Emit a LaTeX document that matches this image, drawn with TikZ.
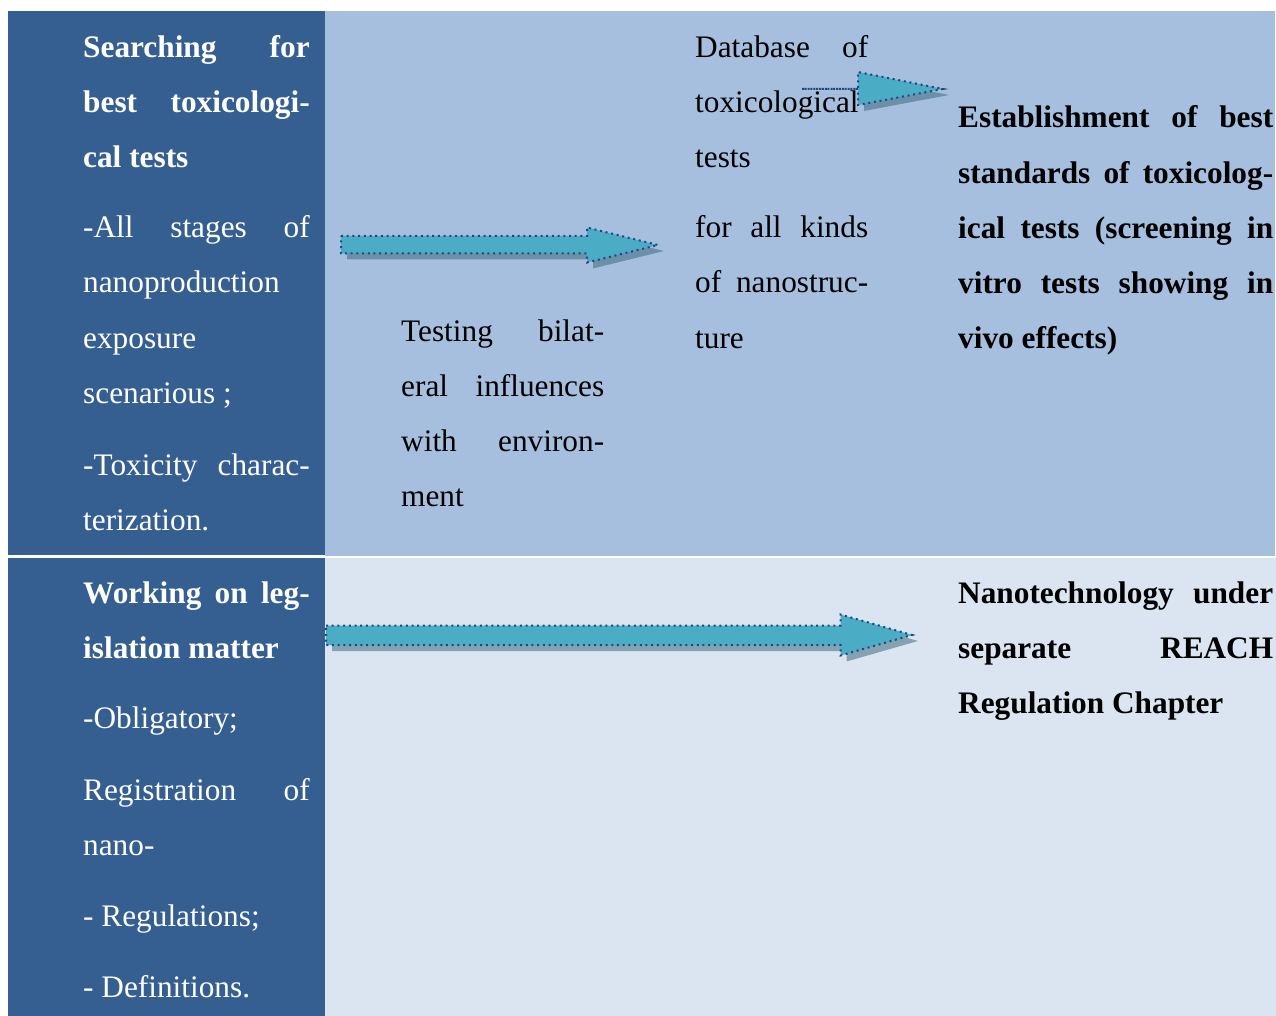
\documentclass[tikz,border=0pt]{standalone}
\usepackage{fontspec}
\setmainfont{Liberation Serif}
\definecolor{darkband}{HTML}{365F91}
\definecolor{lightband}{HTML}{A7BFDE}
\definecolor{paleband}{HTML}{DBE5F1}
\definecolor{arrowfill}{HTML}{4BACC6}
\definecolor{arrowline}{HTML}{1F497D}
\definecolor{arrowshade}{HTML}{3D6B7F}
\newcommand\bodyfont{\fontsize{31.3}{55.2}\selectfont}
\tolerance=10000
\hbadness=10000

\begin{document}
\begin{tikzpicture}[x=1pt, y=-1pt,
    para/.style={anchor=base west, inner sep=0pt, text width=#1, align=justify, font=\bodyfont},
    boldpara/.style={para=#1, font=\bfseries\bodyfont},
    lefttext/.style={para=226.5pt, text=white},
    leftbold/.style={boldpara=226.5pt, text=white},
    arrowbody/.style={fill=arrowfill, draw=arrowline, line width=2pt, dash pattern=on 2pt off 3.7pt},
    arrowshadow/.style={fill=arrowshade, opacity=.55}]
  \useasboundingbox (0,0) rectangle (1276,1016);

  \fill[darkband] (8,11) rectangle (325,555);
  \fill[lightband] (325,11) rectangle (1275,556);
  \fill[darkband] (8,558) rectangle (325,1016);
  \fill[paleband] (325,558) rectangle (1276,1016);

  \node[leftbold] (searching) at (83,57.5) {Searching for\linebreak best toxicologi-\linebreak cal tests};
  \node[lefttext] (stages) at (83,237.7) {-All stages of\linebreak nanoproduction\newline exposure\newline scenarious ;};
  \node[lefttext] (toxicity) at (83,475) {-Toxicity charac-\linebreak terization.};

  \node[para=203pt] (testing) at (401,341) {Testing bilat-\linebreak eral influences\linebreak with environ-\linebreak ment};

  \node[para=173pt] (database) at (695,57.5) {Database of\linebreak toxicological\newline tests};
  \node[para=173pt] (kinds) at (695,237.7) {for all kinds\linebreak of nanostruc-\linebreak ture};

  \node[boldpara=315pt] (establish) at (958,128) {Establishment of best\linebreak standards of toxicolog-\linebreak ical tests (screening in\linebreak vitro tests showing in\linebreak vivo effects)};

  \node[leftbold] (working) at (83,603.3) {Working on leg-\linebreak islation matter};
  \node[lefttext] (obligatory) at (83,728.3) {-Obligatory;};
  \node[lefttext] (registration) at (83,800.7) {Registration of\linebreak nano-};
  \node[lefttext] (regulations) at (83,926) {- Regulations;};
  \node[lefttext] (definitions) at (83,997.7) {- Definitions.};

  \node[boldpara=315pt] (reach) at (958,603.3) {Nanotechnology under\linebreak separate REACH\linebreak Regulation Chapter};

  \foreach \xa/\xb/\xc/\ya/\yb/\yc/\yd/\ym in {341/587/658/236/253.5/227.5/262.5/245,
      326/840.5/912/625.5/645/614.5/655.5/635, 802/858/943/89/89/72/105/89} {
    \fill[arrowshadow, shift={(6,6)}] (\xa,\ya) -- (\xb,\ya) -- (\xb,\yc) -- (\xc,\ym) -- (\xb,\yd) -- (\xb,\yb) -- (\xa,\yb) -- cycle;
    \filldraw[arrowbody] (\xa,\ya) -- (\xb,\ya) -- (\xb,\yc) -- (\xc,\ym) -- (\xb,\yd) -- (\xb,\yb) -- (\xa,\yb) -- cycle;
  }
\end{tikzpicture}
\end{document}
